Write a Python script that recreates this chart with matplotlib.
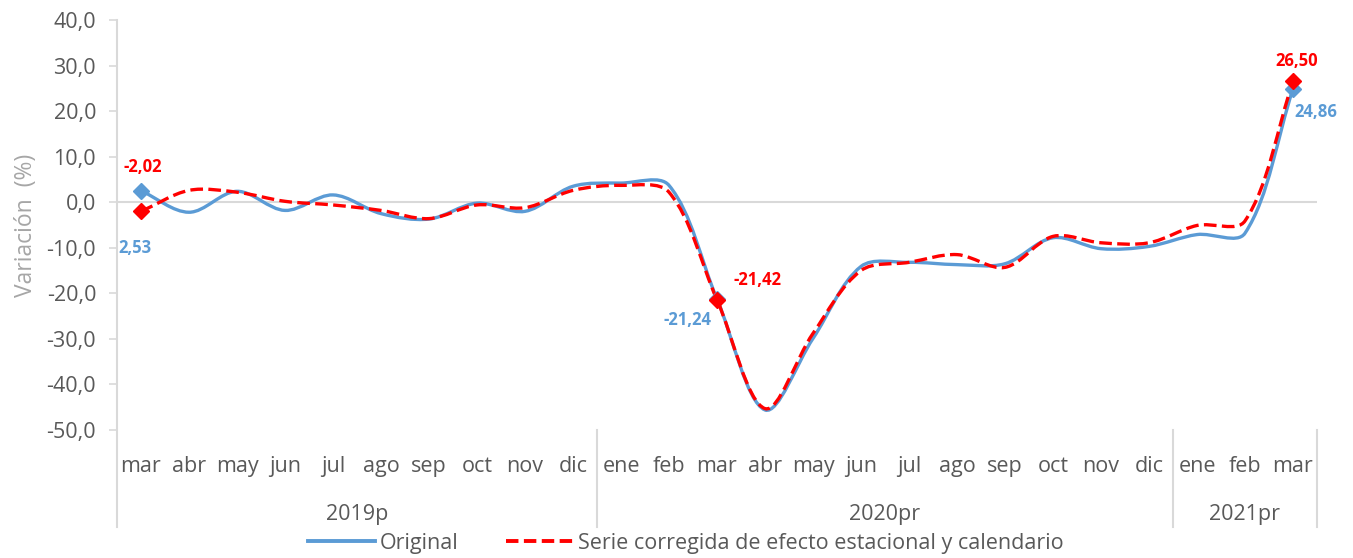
import numpy as np
import matplotlib.pyplot as plt
from matplotlib.path import Path
from matplotlib.patches import PathPatch
from matplotlib.lines import Line2D
import matplotlib.ticker as mticker

plt.rcParams['font.family'] = ['Open Sans', 'DejaVu Sans']

months = ['mar', 'abr', 'may', 'jun', 'jul', 'ago', 'sep', 'oct', 'nov', 'dic',
          'ene', 'feb', 'mar', 'abr', 'may', 'jun', 'jul', 'ago', 'sep', 'oct', 'nov', 'dic',
          'ene', 'feb', 'mar']
years = ['2019p', '2020pr', '2021pr']
year_sizes = [10, 12, 3]

original = [2.53, -2.2, 2.4, -1.8, 1.6, -2.5, -3.7, -0.2, -2.0, 3.5,
            4.2, 3.7, -21.24, -45.6, -29.9, -14.1, -13.2, -13.7, -13.5, -7.8,
            -10.2, -9.7, -7.1, -6.8, 24.86]
corregida = [-2.02, 2.6, 2.2, 0.2, -0.6, -1.8, -3.6, -0.6, -1.2, 2.6,
             3.7, 2.2, -21.42, -45.3, -28.8, -15.0, -13.2, -11.5, -14.3, -7.5,
             -8.9, -8.9, -5.1, -4.1, 26.50]

BLUE = '#5B9BD5'
RED = '#FF0000'
GRAY = '#595959'
LINE = '#D9D9D9'

W, H = 1353, 558
AX_PX = (117, 20, 1200, 410)  # left, top, width, height in pixels


def smooth_path(xs, ys, sx, sy):
    # smoothed line like excel: bezier segments, tangents weighted by chord length (pixel space)
    p = np.column_stack([np.asarray(xs) * sx, np.asarray(ys) * sy]).astype(float)
    n = len(p)
    verts = [p[0]]
    codes = [Path.MOVETO]
    for i in range(n - 1):
        p0 = p[i - 1] if i > 0 else p[i]
        p1, p2 = p[i], p[i + 1]
        p3 = p[i + 2] if i + 2 < n else p[i + 1]
        d01 = np.hypot(*(p1 - p0))
        d12 = np.hypot(*(p2 - p1))
        d23 = np.hypot(*(p3 - p2))
        c1 = p1 + (p2 - p0) * d12 / (d01 + d12) / 3
        c2 = p2 - (p3 - p1) * d12 / (d12 + d23) / 3
        verts += [c1, c2, p2]
        codes += [Path.CURVE4] * 3
    verts = np.array(verts) / [sx, sy]
    return Path(verts, codes)


fig = plt.figure(figsize=(W / 100, H / 100), dpi=100)
l, t, w, h = AX_PX
ax = fig.add_axes([l / W, 1 - (t + h) / H, w / W, h / H])

x = np.arange(len(months))
ax.set_xlim(-0.5, len(months) - 0.5)
ax.set_ylim(-50, 40)
sx = w / len(months)
sy = h / 90

ax.axhline(0, color=LINE, lw=1.5, zorder=1)

ax.add_patch(PathPatch(smooth_path(x, original, sx, sy), fill=False, edgecolor=BLUE,
                       lw=2.4, capstyle='round', zorder=3))
ax.add_patch(PathPatch(smooth_path(x, corregida, sx, sy), fill=False, edgecolor=RED,
                       lw=2.4, linestyle=(0, (3.8, 1.6)), zorder=4))

mk = [0, 12, 24]
ax.plot(x[mk], np.array(original)[mk], 'D', color=BLUE, ms=8, zorder=5)
ax.plot(x[mk], np.array(corregida)[mk], 'D', color=RED, ms=8, zorder=6)


def fmt(v):
    return f'{v:.2f}'.replace('.', ',')


lab = dict(fontsize=12, fontweight='bold', ha='center', va='center', textcoords='offset points')
ax.annotate(fmt(corregida[0]), (0, corregida[0]), xytext=(1.5, 32), color=RED, **lab)
ax.annotate(fmt(original[0]), (0, original[0]), xytext=(-4, -41), color=BLUE, **lab)
ax.annotate(fmt(original[12]), (12, original[12]), xytext=(-21, -15), color=BLUE, **lab)
ax.annotate(fmt(corregida[12]), (12, corregida[12]), xytext=(29, 14.5), color=RED, **lab)
ax.annotate(fmt(corregida[24]), (24, corregida[24]), xytext=(3, 15), color=RED, **lab)
ax.annotate(fmt(original[24]), (24, original[24]), xytext=(16.5, -16.5), color=BLUE, **lab)

ax.yaxis.set_major_locator(mticker.MultipleLocator(10))
ax.yaxis.set_major_formatter(mticker.FuncFormatter(lambda v, p: f'{v:.1f}'.replace('.', ',')))
ax.tick_params(axis='y', length=6, width=1.2, color=LINE, labelcolor=GRAY, labelsize=15.5, pad=9)
ax.set_xticks([])
for s in ['top', 'right', 'bottom', 'left']:
    ax.spines[s].set_visible(False)

ax.set_ylabel('Variación  (%)', color='#A6A6A6', fontsize=16.5, labelpad=6)

# category labels
trans = ax.get_xaxis_transform()
for i, m in enumerate(months):
    ax.text(i, -0.088, m, transform=trans, ha='center', va='center', fontsize=15.5, color=GRAY)

bounds = np.concatenate([[0], np.cumsum(year_sizes)]) - 0.5
for k, yname in enumerate(years):
    ax.text((bounds[k] + bounds[k + 1]) / 2, -0.207, yname, transform=trans,
            ha='center', va='center', fontsize=15.5, color=GRAY)

ax.plot([bounds[0], bounds[0]], [1.0, -0.2366], transform=trans, color=LINE, lw=1.5, clip_on=False)
for b in bounds[1:]:
    ax.plot([b, b], [0, -0.2366], transform=trans, color=LINE, lw=1.5, clip_on=False)

handles = [Line2D([], [], color=BLUE, lw=2.8),
           Line2D([], [], color=RED, lw=2.8, linestyle=(0, (3.2, 1.4)))]
fig.legend(handles, ['Original', 'Serie corregida de efecto estacional y calendario'],
           loc='center', bbox_to_anchor=(686 / W, 1 - 543 / H), ncol=2, frameon=False,
           fontsize=15.5, handlelength=3.1, handletextpad=0.25, columnspacing=2.2,
           labelcolor=GRAY, borderpad=0)

fig.savefig('out.png', dpi=100)
